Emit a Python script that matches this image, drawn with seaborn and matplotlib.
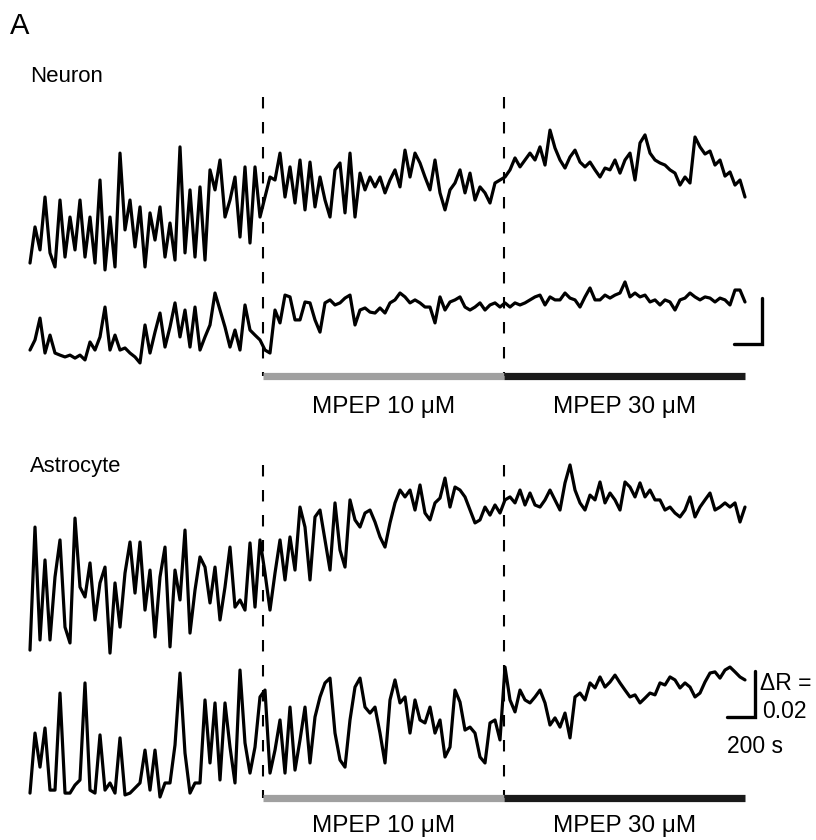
import numpy as np
import pandas as pd
import seaborn as sns
import matplotlib.pyplot as plt

sns.set_theme(style="white")
plt.rcParams['font.family'] = ['Liberation Sans', 'DejaVu Sans']
plt.rcParams['text.color'] = 'black'

# ratio traces, sampled every 36 s, values are dR x 1e-3 above each trace's own floor
dt = 36
drug_on = [1681, 3413]
drug_end = 5148
drug_labels = ['MPEP 10 μM', 'MPEP 30 μM']
drug_colors = ['#a0a0a0', '#1a1a1a']

neuron_a = [5.2, 20.9, 10.9, 33.9, 9.6, 3.5, 32.6, 7.8, 25.2, 10.9, 32.6, 7.8, 25.2, 5.2, 41.3, 2.2,
            25.2, 3.5, 53.0, 19.6, 32.6, 12.2, 29.6, 3.5, 27.0, 15.2, 29.6, 7.8, 22.6, 6.5, 55.7, 9.6,
            37.0, 7.8, 38.3, 6.5, 45.7, 37.0, 50.0, 25.2, 32.6, 42.6, 16.5, 47.0, 13.9, 47.0, 25.2,
            33.9, 42.6, 41.3, 53.0, 33.9, 47.0, 31.3, 50.0, 28.3, 49.1, 29.6, 42.6, 32.6, 25.2, 45.7,
            48.7, 27.0, 53.0, 25.2, 44.3, 37.0, 42.6, 38.3, 42.6, 35.7, 41.3, 45.7, 38.3, 54.3, 42.6,
            53.0, 48.7, 42.6, 37.0, 50.0, 35.7, 28.3, 37.0, 40.0, 45.7, 35.7, 44.3, 32.6, 38.3, 35.7,
            31.3, 40.0, 41.3,
            42.6, 45.7, 50.9, 47.0, 50.0, 53.0, 50.0, 55.7, 47.8, 63.0, 55.2, 50.0, 46.5, 51.3, 54.3,
            49.1, 47.0, 49.1, 45.7, 42.6, 46.5, 45.7, 50.0, 44.3, 50.0, 53.0, 41.3, 57.4, 60.9, 53.0,
            50.0, 48.7, 47.8, 45.7, 44.3, 39.1, 42.6, 40.0, 60.0, 55.7, 52.6, 53.9, 47.8, 50.0, 43.0,
            44.8, 39.1, 41.3, 33.9]

neuron_b = [6.5, 10.9, 20.4, 5.2, 13.0, 5.2, 4.3, 3.5, 4.3, 3.0, 4.3, 2.2, 10.0, 6.5, 12.2, 25.2,
            6.5, 13.0, 6.5, 7.4, 5.2, 3.5, 0.9, 17.4, 5.2, 14.3, 22.6, 7.8, 16.5, 27.0, 12.2, 23.9,
            7.8, 25.2, 6.5, 12.2, 17.4, 31.3, 23.9, 16.5, 7.8, 15.2, 6.5, 26.1, 15.2, 13.0, 10.9,
            6.5, 5.2, 23.9, 18.3, 30.4, 29.6, 19.6, 19.6, 27.4, 27.0, 19.6, 14.3, 27.0, 28.3, 26.1,
            27.0, 29.1, 30.4, 17.4, 23.9, 24.8, 23.0, 22.6, 24.8, 22.6, 27.0, 28.3, 31.3, 29.6, 27.0,
            28.3, 27.0, 25.2, 25.2, 18.3, 29.6, 23.9, 27.4, 28.3, 29.6, 25.2, 23.9, 25.2, 27.0, 23.9,
            26.1, 27.0, 25.2,
            27.0, 25.2, 27.0, 26.1, 27.0, 28.3, 29.6, 30.4, 26.1, 29.6, 28.3, 28.3, 31.3, 29.1, 28.3,
            25.2, 29.6, 33.5, 28.3, 28.3, 30.4, 29.1, 30.4, 31.3, 36.1, 29.6, 31.3, 29.6, 30.4, 27.4,
            28.3, 26.1, 28.3, 27.4, 23.9, 28.3, 29.1, 31.3, 29.6, 28.3, 29.6, 29.1, 27.4, 29.1, 28.3,
            26.1, 32.6, 32.6, 27.4]

astro_a = [4.3, 57.8, 8.7, 43.5, 8.7, 36.1, 52.2, 14.3, 7.4, 61.7, 31.7, 27.4, 42.2, 17.4, 33.5, 40.4,
           3.0, 33.5, 14.3, 37.8, 51.3, 29.1, 51.3, 21.7, 39.1, 10.0, 36.1, 49.1, 5.7, 39.1, 26.1, 56.5,
           11.7, 30.4, 44.8, 40.4, 24.8, 40.4, 17.4, 31.7, 49.1, 23.0, 26.1, 21.7, 50.9, 23.0, 52.2,
           37.8, 21.7, 37.8, 52.2, 34.8, 53.5, 39.1, 66.5, 57.8, 34.8, 62.2, 65.2, 52.2, 39.1, 68.3,
           47.8, 40.4, 69.6, 60.9, 57.8, 63.9, 65.2, 60.0, 53.5, 49.1, 59.6, 68.3, 73.9, 70.9, 73.9,
           65.2, 76.1, 63.9, 60.9, 68.3, 70.4, 79.1, 66.5, 75.2, 73.9, 70.9, 65.2, 59.6, 60.9, 66.5,
           63.0, 67.4, 63.9,
           69.6, 70.9, 68.3, 73.9, 67.4, 72.6, 67.4, 66.5, 69.6, 73.9, 69.6, 65.2, 77.0, 84.8, 73.9,
           68.3, 65.2, 71.7, 69.6, 77.4, 68.3, 72.6, 69.6, 65.2, 77.4, 75.2, 70.9, 77.0, 70.9, 73.9,
           69.6, 69.6, 65.2, 66.5, 63.9, 62.2, 65.2, 70.9, 62.2, 66.5, 69.6, 72.6, 65.2, 66.5, 68.3,
           66.5, 68.3, 60.0, 66.5]

astro_b = [3.0, 29.1, 14.3, 31.3, 4.3, 4.3, 46.5, 3.0, 3.0, 6.5, 8.7, 50.9, 4.3, 3.0, 28.3, 4.3,
           7.4, 3.0, 27.0, 2.2, 3.0, 5.2, 7.4, 21.7, 4.3, 21.7, 1.3, 7.4, 7.4, 23.9, 55.2, 20.4,
           3.0, 7.4, 7.4, 43.5, 16.1, 42.2, 8.7, 42.2, 23.0, 7.4, 56.5, 24.8, 11.7, 23.0, 44.8,
           47.8, 11.7, 21.7, 34.8, 11.7, 40.4, 13.0, 26.1, 40.4, 16.1, 36.1, 44.8, 50.9, 53.0, 29.1,
           17.4, 14.3, 34.8, 49.1, 53.0, 40.4, 37.8, 40.4, 29.1, 16.1, 43.5, 52.2, 42.2, 44.8, 29.1,
           43.5, 34.8, 33.5, 40.4, 29.1, 34.8, 18.7, 23.0, 47.8, 42.6, 30.4, 31.7, 29.1, 18.7, 16.1,
           33.5, 34.8, 26.1,
           57.8, 43.5, 38.3, 47.8, 43.5, 42.2, 44.8, 47.8, 42.2, 32.6, 35.7, 31.7, 37.8, 27.0, 44.8,
           46.5, 43.5, 50.9, 48.7, 53.5, 49.1, 51.3, 54.3, 50.9, 47.8, 44.8, 45.7, 42.2, 44.3, 46.5,
           45.7, 50.9, 50.0, 53.5, 52.2, 48.7, 50.9, 49.1, 44.8, 46.5, 51.3, 55.2, 55.7, 53.0, 56.5,
           57.8, 55.7, 53.5, 52.2]

scale_t = 200    # s
scale_r = 0.02   # dR

# page layout (figure pixels)
W, H = 816, 840
px_per_s = 715 / (143 * dt)
r_per_px = scale_r / 46
t0 = -30 / px_per_s


def xs(px):
    return t0 + px / px_per_s


def ys(py):
    return (H - py) * r_per_px


fig = plt.figure(figsize=(W / 100, H / 100), dpi=100)
ax = fig.add_axes([0, 0, 1, 1])
ax.set_xlim(xs(0), xs(W))
ax.set_ylim(0, ys(0))
ax.axis('off')

traces = {'neuron_a': (neuron_a, 275), 'neuron_b': (neuron_b, 365),
          'astro_a': (astro_a, 660), 'astro_b': (astro_b, 800)}
frames = []
for name, (vals, floor_py) in traces.items():
    v = np.array(vals)
    frames.append(pd.DataFrame({'t': np.arange(len(v)) * dt,
                                'r': ys(floor_py) + v * 1e-3,
                                'trace': name}))
df = pd.concat(frames, ignore_index=True)

sns.lineplot(data=df, x='t', y='r', hue='trace', units='trace', estimator=None,
             palette=dict.fromkeys(traces, 'black'), legend=False, lw=2.3, ax=ax)

# drug periods: dashed onsets, bars and labels
for top, bot, text_y in [(97, 376, 413), (465, 798, 832)]:
    for t in drug_on:
        ax.plot([t, t], [ys(top), ys(bot)], color='black', lw=1.5, ls=(0, (5.5, 6.5)))
    starts = drug_on
    ends = drug_on[1:] + [drug_end]
    for s, e, lab, c in zip(starts, ends, drug_labels, drug_colors):
        ax.plot([s, e], [ys(bot), ys(bot)], color=c, lw=5.2, solid_capstyle='butt')
        ax.text((s + e) / 2, ys(text_y), lab, ha='center', va='baseline', fontsize=17.5)

# scale bars
for corner_px, corner_py in [(762, 344), (755, 717)]:
    tx, ry = xs(corner_px), ys(corner_py)
    ax.plot([tx - scale_t, tx, tx], [ry, ry, ry + scale_r], color='black', lw=2.4,
            solid_joinstyle='miter')

ax.text(xs(760), ys(690), 'ΔR =', fontsize=16.5, va='baseline')
ax.text(xs(762), ys(718), '0.02', fontsize=16.5, va='baseline')
ax.text(xs(727), ys(753), '200 s', fontsize=16.5, va='baseline')

ax.text(xs(10), ys(34), 'A', fontsize=21, va='baseline')
ax.text(xs(30), ys(82), 'Neuron', fontsize=16, va='baseline')
ax.text(xs(30), ys(472), 'Astrocyte', fontsize=15.8, va='baseline')

fig.savefig('out.png', dpi=100)
